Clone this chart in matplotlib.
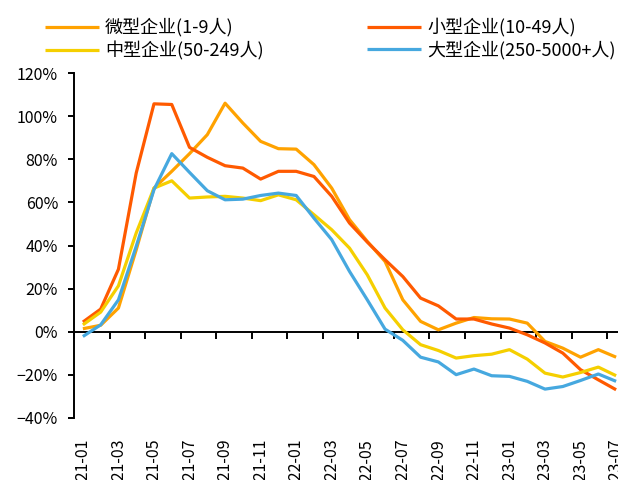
import matplotlib
matplotlib.use("Agg")
import matplotlib.pyplot as plt
from matplotlib.ticker import FuncFormatter

plt.rcParams['font.family'] = ['Noto Sans CJK SC', 'DejaVu Sans']

# Monthly period labels 2021-01 .. 2023-07
months = [f"{y}-{m:02d}" for y in (2021, 2022, 2023) for m in range(1, 13)][:31]

micro = [1.4, 3.0, 11.0, 38.0, 66.6, 74.4, 82.6, 91.4, 106.0, 96.8, 88.3,
         84.9, 84.7, 77.5, 66.6, 52.0, 41.9, 32.6, 14.8, 4.8, 0.9,
         4.0, 6.6, 6.0, 5.9, 4.0, -4.5, -7.6, -11.8, -8.3, -11.8]
small = [4.5, 10.5, 29.0, 73.6, 105.7, 105.4, 85.5, 80.9, 77.0, 75.9, 70.8,
         74.4, 74.4, 72.0, 62.8, 50.4, 41.6, 33.4, 25.6, 15.6, 12.0,
         5.9, 5.9, 3.6, 1.7, -1.4, -5.2, -9.9, -17.6, -22.3, -26.9]
medium = [3.2, 9.1, 21.3, 45.8, 66.6, 70.0, 62.0, 62.5, 62.8, 62.0, 60.8,
          63.5, 61.2, 54.3, 47.3, 38.8, 26.4, 11.0, 0.9, -6.0, -8.7,
          -12.2, -11.1, -10.4, -8.3, -12.7, -19.2, -21.0, -18.9, -16.4, -20.4]
large = [-2.2, 3.2, 14.8, 39.6, 65.9, 82.6, 73.9, 65.4, 61.2, 61.5, 63.2,
         64.3, 63.2, 52.7, 42.7, 28.0, 14.8, 1.2, -4.0, -11.8, -14.0,
         -19.9, -17.3, -20.4, -20.7, -23.0, -26.6, -25.4, -22.6, -19.6, -23.0]

series_names = ["微型企业(1-9人)", "小型企业(10-49人)", "中型企业(50-249人)", "大型企业(250-5000+人)"]
series_values = [micro, small, medium, large]
series_colors = ["#FFA200", "#FF5A00", "#F5CF00", "#46A8DF"]

yticks = [-40, -20, 0, 20, 40, 60, 80, 100, 120]

W, H = 618, 480
fig = plt.figure(figsize=(W / 100, H / 100), dpi=100)
ax = fig.add_axes([74 / W, (H - 418) / H, (625 - 74) / W, (418 - 73) / H])

x = list(range(len(months)))
lines = {}
for name, vals, col in zip(series_names, series_values, series_colors):
    lines[name], = ax.plot(x, vals, color=col, lw=2.3, solid_joinstyle='round',
                           solid_capstyle='butt', clip_on=False)

ax.set_xlim(-0.5, len(months) - 0.5)
ax.set_ylim(-40, 120)
ax.set_yticks(yticks)
ax.yaxis.set_major_formatter(FuncFormatter(lambda v, p: f"{v:.0f}%".replace('-', '\u2212')))

for s in ('top', 'right', 'bottom'):
    ax.spines[s].set_visible(False)
ax.spines['left'].set_linewidth(1.4)
ax.tick_params(axis='y', direction='out', length=4.5, width=1.4, pad=7, labelsize=11.5)

# category labels along the bottom edge
ax.set_xticks(x[::2])
ax.set_xticklabels(months[::2], rotation=90)
ax.tick_params(axis='x', length=0, pad=15, labelsize=11.5)

# zero line carrying the boundary tick marks
zero_frac = (0 - (-40)) / 160
sec = ax.secondary_xaxis(zero_frac)
sec.spines['bottom'].set_linewidth(1.4)
sec.set_xticks([i - 0.5 for i in range(0, len(months) + 1, 2)])
sec.tick_params(axis='x', direction='out', length=5, width=1.4, labelbottom=False)

# legend: two stacked columns
legend_kw = dict(loc='upper left', frameon=False, fontsize=13, handlelength=3.0,
                 handletextpad=0.33, labelspacing=0.22, borderpad=0, borderaxespad=0)
col_a = [series_names[0], series_names[2]]
col_b = [series_names[1], series_names[3]]
fig.legend([lines[n] for n in col_a], col_a, bbox_to_anchor=(45 / W, 1 - 18 / H), **legend_kw)
fig.legend([lines[n] for n in col_b], col_b, bbox_to_anchor=(367 / W, 1 - 18 / H), **legend_kw)

fig.savefig("out.png", dpi=100)
